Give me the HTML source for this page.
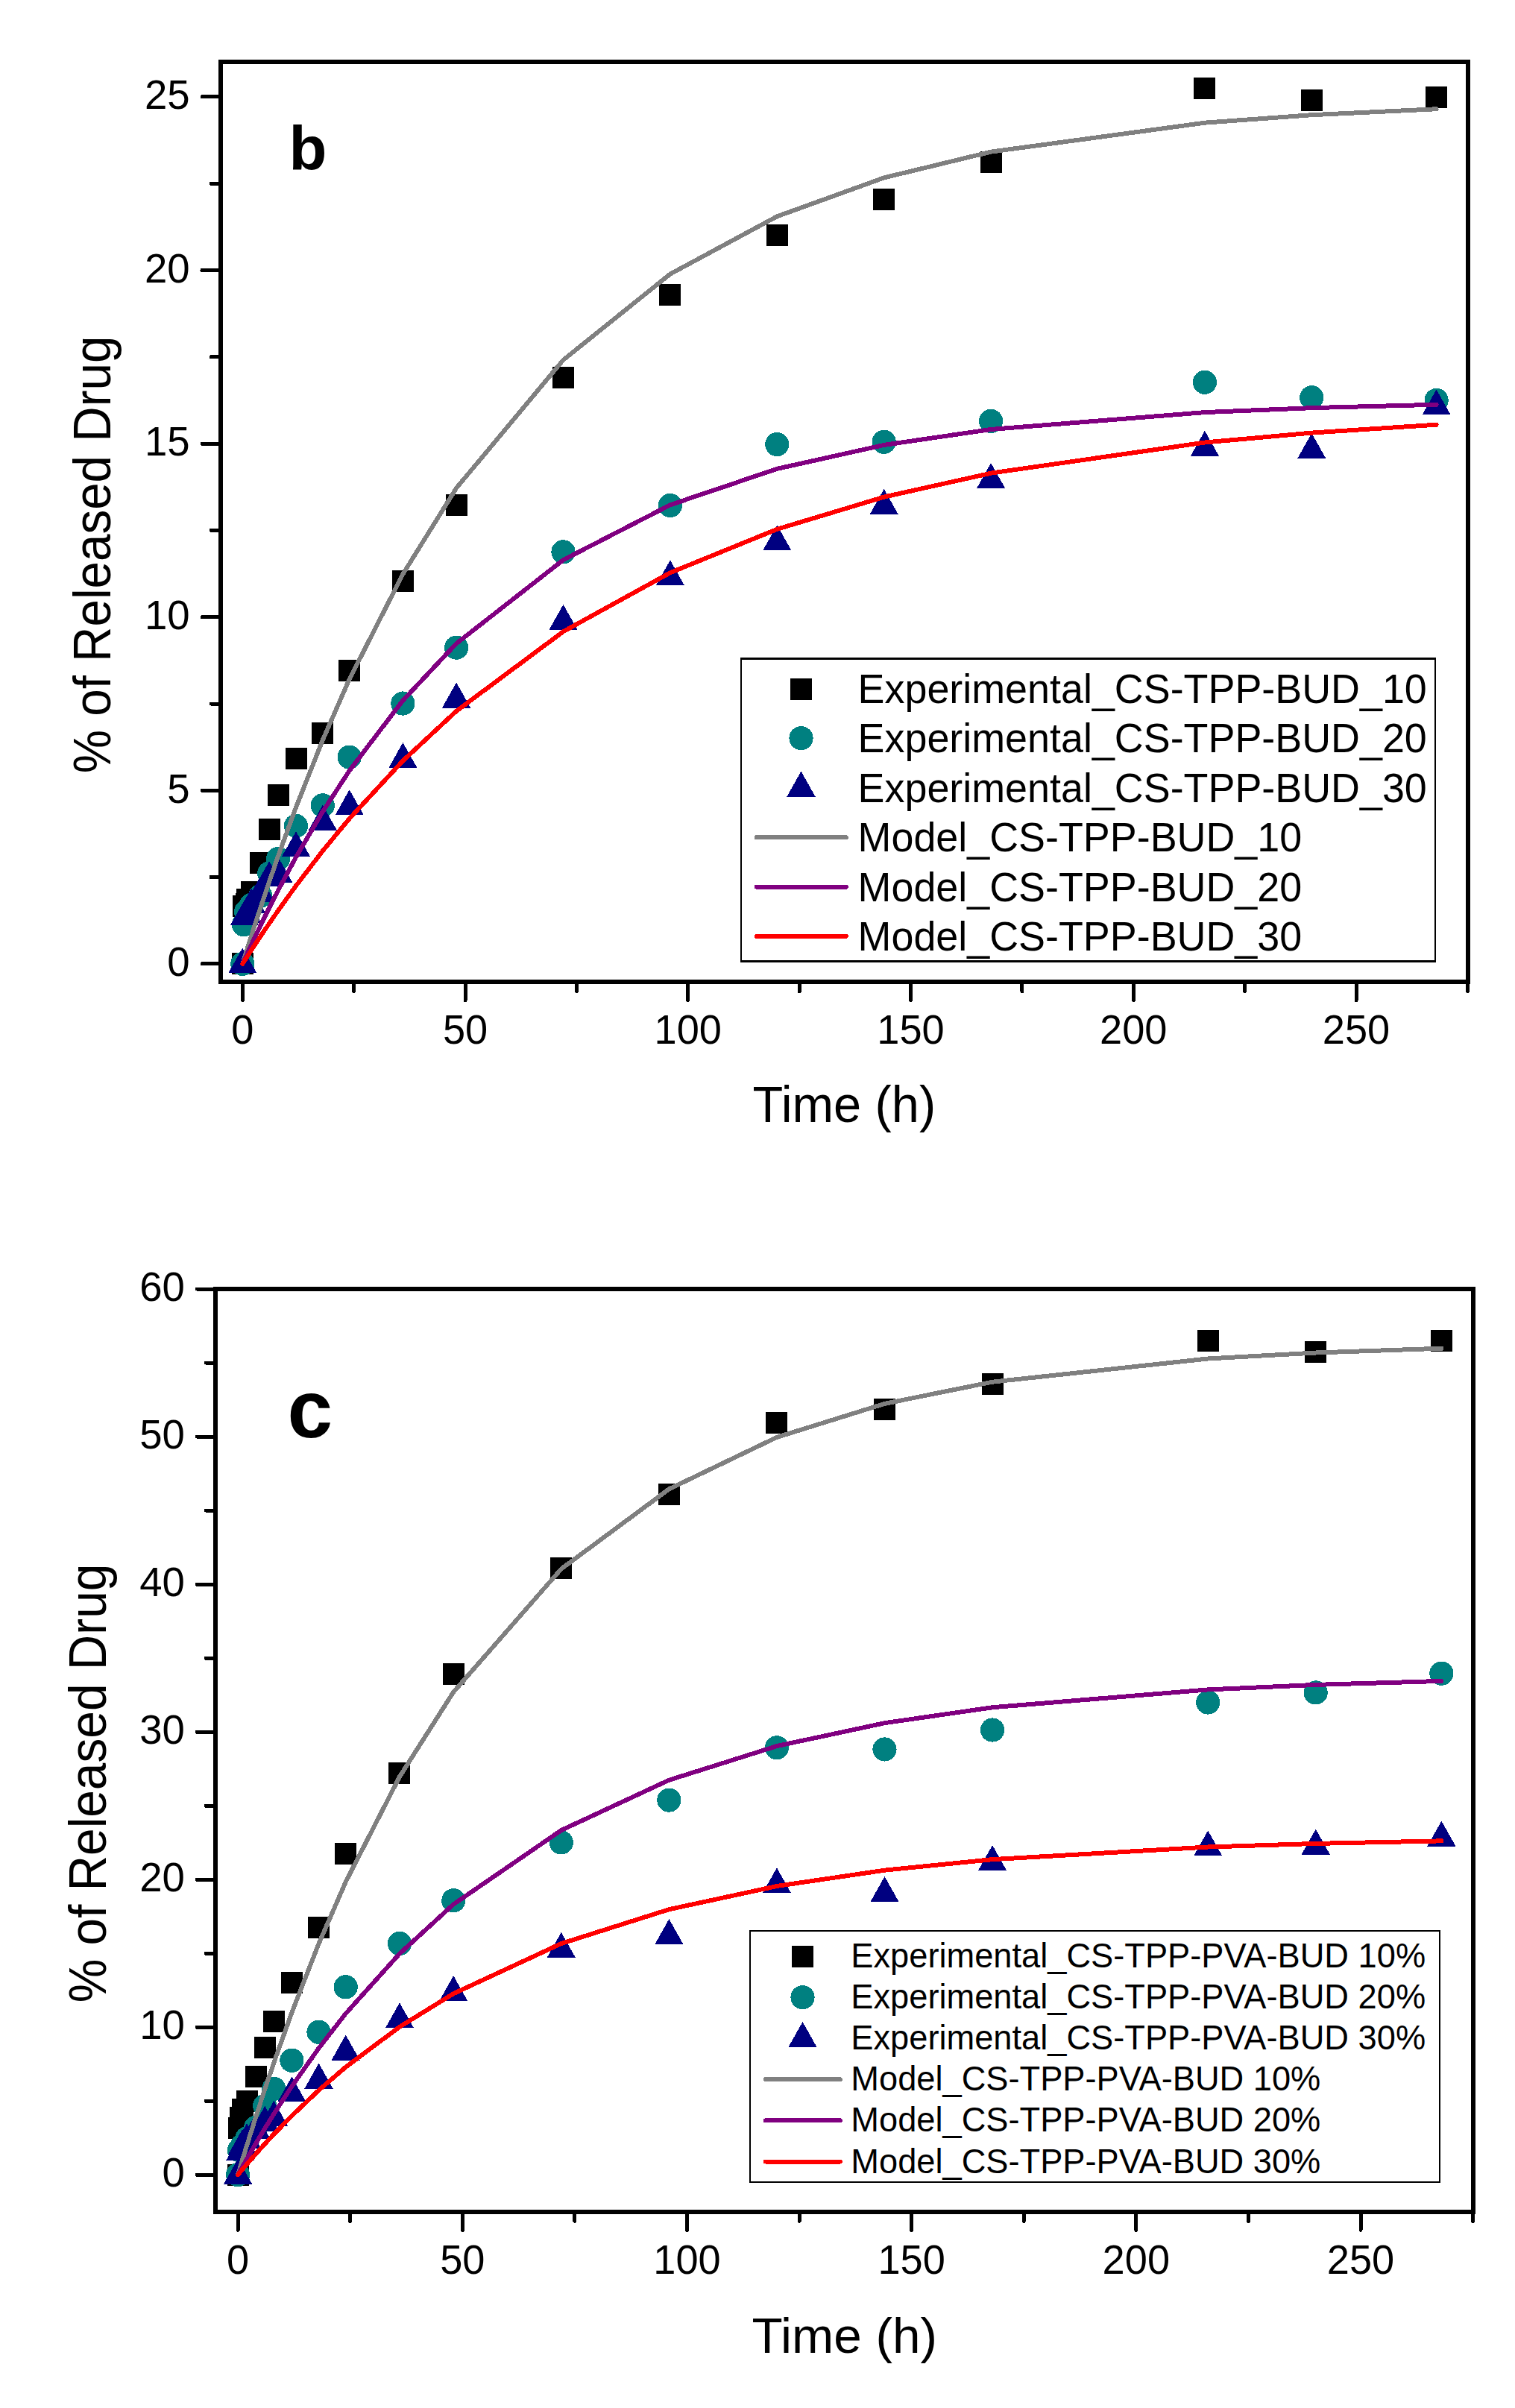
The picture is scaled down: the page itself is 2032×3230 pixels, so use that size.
<!DOCTYPE html>
<html><head><meta charset="utf-8"><title>Drug release</title>
<style>html,body{margin:0;padding:0;background:#fff;}svg{display:block;}</style>
</head><body>
<svg width="2032" height="3230" viewBox="0 0 2032 3230" shape-rendering="crispEdges" font-family='"Liberation Sans", Arial, sans-serif' fill="#000">
<rect width="2032" height="3230" fill="#fff"/>
<rect x="310.8" y="1278.4" width="29" height="29" fill="#000000"/>
<rect x="311.82" y="1201.18" width="29" height="29" fill="#000000"/>
<rect x="315.82" y="1198.39" width="29" height="29" fill="#000000"/>
<rect x="317.01" y="1191.87" width="29" height="29" fill="#000000"/>
<rect x="322.93" y="1182.1" width="29" height="29" fill="#000000"/>
<rect x="334.7" y="1143.03" width="29" height="29" fill="#000000"/>
<rect x="346.65" y="1098.37" width="29" height="29" fill="#000000"/>
<rect x="358.6" y="1052.31" width="29" height="29" fill="#000000"/>
<rect x="382.5" y="1002.54" width="29" height="29" fill="#000000"/>
<rect x="418.35" y="968.58" width="29" height="29" fill="#000000"/>
<rect x="454.2" y="884.84" width="29" height="29" fill="#000000"/>
<rect x="525.9" y="764.82" width="29" height="29" fill="#000000"/>
<rect x="597.6" y="662.94" width="29" height="29" fill="#000000"/>
<rect x="741" y="491.75" width="29" height="29" fill="#000000"/>
<rect x="884.4" y="381.03" width="29" height="29" fill="#000000"/>
<rect x="1027.8" y="301.01" width="29" height="29" fill="#000000"/>
<rect x="1171.2" y="252.63" width="29" height="29" fill="#000000"/>
<rect x="1314.6" y="202.86" width="29" height="29" fill="#000000"/>
<rect x="1601.4" y="103.77" width="29" height="29" fill="#000000"/>
<rect x="1744.8" y="120.05" width="29" height="29" fill="#000000"/>
<rect x="1912.1" y="116.33" width="29" height="29" fill="#000000"/>
<circle cx="325.3" cy="1292.9" r="16.1" fill="#008080"/>
<circle cx="326.97" cy="1240.33" r="16.1" fill="#008080"/>
<circle cx="330.08" cy="1223.12" r="16.1" fill="#008080"/>
<circle cx="337.25" cy="1213.82" r="16.1" fill="#008080"/>
<circle cx="349.2" cy="1201.72" r="16.1" fill="#008080"/>
<circle cx="361.15" cy="1171.48" r="16.1" fill="#008080"/>
<circle cx="373.1" cy="1151.94" r="16.1" fill="#008080"/>
<circle cx="397" cy="1107.75" r="16.1" fill="#008080"/>
<circle cx="432.85" cy="1080.3" r="16.1" fill="#008080"/>
<circle cx="468.7" cy="1015.64" r="16.1" fill="#008080"/>
<circle cx="540.4" cy="943.53" r="16.1" fill="#008080"/>
<circle cx="612.1" cy="868.64" r="16.1" fill="#008080"/>
<circle cx="755.5" cy="740.24" r="16.1" fill="#008080"/>
<circle cx="898.9" cy="677.91" r="16.1" fill="#008080"/>
<circle cx="1042.3" cy="596.03" r="16.1" fill="#008080"/>
<circle cx="1185.7" cy="592.77" r="16.1" fill="#008080"/>
<circle cx="1329.1" cy="564.86" r="16.1" fill="#008080"/>
<circle cx="1615.9" cy="512.76" r="16.1" fill="#008080"/>
<circle cx="1759.3" cy="533.23" r="16.1" fill="#008080"/>
<circle cx="1926.6" cy="536.95" r="16.1" fill="#008080"/>
<polygon points="325.3,1271.4 344.4,1305.4 306.2,1305.4" fill="#000080"/>
<polygon points="327.99,1207.2 347.09,1241.2 308.89,1241.2" fill="#000080"/>
<polygon points="331.28,1203.95 350.38,1237.95 312.18,1237.95" fill="#000080"/>
<polygon points="337.25,1191.39 356.35,1225.39 318.15,1225.39" fill="#000080"/>
<polygon points="349.2,1175.57 368.3,1209.57 330.1,1209.57" fill="#000080"/>
<polygon points="361.15,1155.1 380.25,1189.1 342.05,1189.1" fill="#000080"/>
<polygon points="373.1,1149.52 392.2,1183.52 354,1183.52" fill="#000080"/>
<polygon points="397,1115.09 416.1,1149.09 377.9,1149.09" fill="#000080"/>
<polygon points="432.85,1079.74 451.95,1113.74 413.75,1113.74" fill="#000080"/>
<polygon points="468.7,1059.27 487.8,1093.27 449.6,1093.27" fill="#000080"/>
<polygon points="540.4,996 559.5,1030 521.3,1030" fill="#000080"/>
<polygon points="612.1,915.52 631.2,949.52 593,949.52" fill="#000080"/>
<polygon points="755.5,810.85 774.6,844.85 736.4,844.85" fill="#000080"/>
<polygon points="898.9,751.31 918,785.31 879.8,785.31" fill="#000080"/>
<polygon points="1042.3,704.32 1061.4,738.32 1023.2,738.32" fill="#000080"/>
<polygon points="1185.7,655.94 1204.8,689.94 1166.6,689.94" fill="#000080"/>
<polygon points="1329.1,621.05 1348.2,655.05 1310,655.05" fill="#000080"/>
<polygon points="1615.9,577.79 1635,611.79 1596.8,611.79" fill="#000080"/>
<polygon points="1759.3,581.04 1778.4,615.04 1740.2,615.04" fill="#000080"/>
<polygon points="1926.6,522.43 1945.7,556.43 1907.5,556.43" fill="#000080"/>
<polyline points="325.3,1292.9 326.79,1288.08 328.29,1283.29 331.28,1273.75 337.25,1254.92 349.2,1218.19 361.15,1182.65 373.1,1148.28 397,1082.88 432.85,992.6 468.7,910.89 540.4,770.03 612.1,654.68 755.5,482.83 898.9,367.58 1042.3,290.28 1185.7,238.43 1329.1,203.66 1615.9,164.69 1759.3,154.2 1926.6,146.24" fill="none" stroke="#808080" stroke-width="6.0" stroke-linecap="round" stroke-linejoin="round"/>
<polyline points="325.3,1292.9 326.79,1289.6 328.29,1286.32 331.28,1279.79 337.25,1266.91 349.2,1241.81 361.15,1217.58 373.1,1194.17 397,1149.75 432.85,1088.66 468.7,1033.66 540.4,939.51 612.1,863.17 755.5,751.05 898.9,677.32 1042.3,628.83 1185.7,596.94 1329.1,575.97 1615.9,553.11 1759.3,547.15 1926.6,542.72" fill="none" stroke="#800080" stroke-width="6.0" stroke-linecap="round" stroke-linejoin="round"/>
<polyline points="325.3,1292.9 326.79,1290.55 328.29,1288.21 331.28,1283.55 337.25,1274.32 349.2,1256.21 361.15,1238.54 373.1,1221.31 397,1188.13 432.85,1141.37 468.7,1098.01 540.4,1020.5 612.1,953.83 755.5,847.15 898.9,768.23 1042.3,709.84 1185.7,666.64 1329.1,634.68 1615.9,593.54 1759.3,580.6 1926.6,569.69" fill="none" stroke="#ff0000" stroke-width="6.0" stroke-linecap="round" stroke-linejoin="round"/>
<rect x="296" y="83.3" width="1673" height="1233.7" fill="none" stroke="#000" stroke-width="6.0"/>
<line x1="271" y1="1292.9" x2="293" y2="1292.9" stroke="#000" stroke-width="5.0" stroke-linecap="round"/>
<text transform="translate(254.6,1309.1) scale(1,1.0250)" font-size="54.6" text-anchor="end">0</text>
<line x1="271" y1="1060.3" x2="293" y2="1060.3" stroke="#000" stroke-width="5.0" stroke-linecap="round"/>
<text transform="translate(254.6,1076.5) scale(1,1.0250)" font-size="54.6" text-anchor="end">5</text>
<line x1="271" y1="827.7" x2="293" y2="827.7" stroke="#000" stroke-width="5.0" stroke-linecap="round"/>
<text transform="translate(254.6,843.9) scale(1,1.0250)" font-size="54.6" text-anchor="end">10</text>
<line x1="271" y1="595.1" x2="293" y2="595.1" stroke="#000" stroke-width="5.0" stroke-linecap="round"/>
<text transform="translate(254.6,611.3) scale(1,1.0250)" font-size="54.6" text-anchor="end">15</text>
<line x1="271" y1="362.5" x2="293" y2="362.5" stroke="#000" stroke-width="5.0" stroke-linecap="round"/>
<text transform="translate(254.6,378.7) scale(1,1.0250)" font-size="54.6" text-anchor="end">20</text>
<line x1="271" y1="129.9" x2="293" y2="129.9" stroke="#000" stroke-width="5.0" stroke-linecap="round"/>
<text transform="translate(254.6,146.1) scale(1,1.0250)" font-size="54.6" text-anchor="end">25</text>
<line x1="283" y1="1176.6" x2="293" y2="1176.6" stroke="#000" stroke-width="5.0" stroke-linecap="round"/>
<line x1="283" y1="944" x2="293" y2="944" stroke="#000" stroke-width="5.0" stroke-linecap="round"/>
<line x1="283" y1="711.4" x2="293" y2="711.4" stroke="#000" stroke-width="5.0" stroke-linecap="round"/>
<line x1="283" y1="478.8" x2="293" y2="478.8" stroke="#000" stroke-width="5.0" stroke-linecap="round"/>
<line x1="283" y1="246.2" x2="293" y2="246.2" stroke="#000" stroke-width="5.0" stroke-linecap="round"/>
<line x1="325.3" y1="1320" x2="325.3" y2="1341.5" stroke="#000" stroke-width="5.0" stroke-linecap="round"/>
<text transform="translate(325.3,1399.8) scale(1,1.0250)" font-size="54.2" text-anchor="middle">0</text>
<line x1="624.05" y1="1320" x2="624.05" y2="1341.5" stroke="#000" stroke-width="5.0" stroke-linecap="round"/>
<text transform="translate(624.05,1399.8) scale(1,1.0250)" font-size="54.2" text-anchor="middle">50</text>
<line x1="922.8" y1="1320" x2="922.8" y2="1341.5" stroke="#000" stroke-width="5.0" stroke-linecap="round"/>
<text transform="translate(922.8,1399.8) scale(1,1.0250)" font-size="54.2" text-anchor="middle">100</text>
<line x1="1221.55" y1="1320" x2="1221.55" y2="1341.5" stroke="#000" stroke-width="5.0" stroke-linecap="round"/>
<text transform="translate(1221.55,1399.8) scale(1,1.0250)" font-size="54.2" text-anchor="middle">150</text>
<line x1="1520.3" y1="1320" x2="1520.3" y2="1341.5" stroke="#000" stroke-width="5.0" stroke-linecap="round"/>
<text transform="translate(1520.3,1399.8) scale(1,1.0250)" font-size="54.2" text-anchor="middle">200</text>
<line x1="1819.05" y1="1320" x2="1819.05" y2="1341.5" stroke="#000" stroke-width="5.0" stroke-linecap="round"/>
<text transform="translate(1819.05,1399.8) scale(1,1.0250)" font-size="54.2" text-anchor="middle">250</text>
<line x1="474.68" y1="1320" x2="474.68" y2="1329.5" stroke="#000" stroke-width="5.0" stroke-linecap="round"/>
<line x1="773.42" y1="1320" x2="773.42" y2="1329.5" stroke="#000" stroke-width="5.0" stroke-linecap="round"/>
<line x1="1072.17" y1="1320" x2="1072.17" y2="1329.5" stroke="#000" stroke-width="5.0" stroke-linecap="round"/>
<line x1="1370.92" y1="1320" x2="1370.92" y2="1329.5" stroke="#000" stroke-width="5.0" stroke-linecap="round"/>
<line x1="1669.67" y1="1320" x2="1669.67" y2="1329.5" stroke="#000" stroke-width="5.0" stroke-linecap="round"/>
<line x1="1968.42" y1="1320" x2="1968.42" y2="1329.5" stroke="#000" stroke-width="5.0" stroke-linecap="round"/>
<text transform="translate(387.6,228)" font-size="83.3" font-weight="bold">b</text>
<text transform="translate(1009.4,1504.9) scale(1,1.0300)" font-size="66.7">Time (h)</text>
<text transform="translate(148,1037.3) rotate(-90) scale(1,1.0640)" font-size="65.56">% of Released Drug</text>
<rect x="993.8" y="883.5" width="931.4" height="406" fill="#fff" stroke="#000" stroke-width="2.4"/>
<rect x="1060" y="909.6" width="29" height="29" fill="#000000"/>
<text transform="translate(1150.6,943.1) scale(1,1.0450)" font-size="53.87">Experimental_CS-TPP-BUD_10</text>
<circle cx="1074.5" cy="990.1" r="16.1" fill="#008080"/>
<text transform="translate(1150.6,1009.1) scale(1,1.0450)" font-size="53.87">Experimental_CS-TPP-BUD_20</text>
<polygon points="1074.5,1034.6 1093.6,1068.6 1055.4,1068.6" fill="#000080"/>
<text transform="translate(1150.6,1075.6) scale(1,1.0450)" font-size="53.87">Experimental_CS-TPP-BUD_30</text>
<line x1="1014.7" y1="1123.3" x2="1134.9" y2="1123.3" stroke="#808080" stroke-width="6.0" stroke-linecap="round"/>
<text transform="translate(1150.6,1142.3) scale(1,1.0450)" font-size="53.87">Model_CS-TPP-BUD_10</text>
<line x1="1014.7" y1="1189.6" x2="1134.9" y2="1189.6" stroke="#800080" stroke-width="6.0" stroke-linecap="round"/>
<text transform="translate(1150.6,1208.6) scale(1,1.0450)" font-size="53.87">Model_CS-TPP-BUD_20</text>
<line x1="1014.7" y1="1255.8" x2="1134.9" y2="1255.8" stroke="#ff0000" stroke-width="6.0" stroke-linecap="round"/>
<text transform="translate(1150.6,1274.8) scale(1,1.0450)" font-size="53.87">Model_CS-TPP-BUD_30</text>
<rect x="304.6" y="2902.7" width="29" height="29" fill="#000000"/>
<rect x="305.8" y="2839.53" width="29" height="29" fill="#000000"/>
<rect x="307.61" y="2825.67" width="29" height="29" fill="#000000"/>
<rect x="310.62" y="2814.97" width="29" height="29" fill="#000000"/>
<rect x="316.65" y="2804.08" width="29" height="29" fill="#000000"/>
<rect x="328.69" y="2771.41" width="29" height="29" fill="#000000"/>
<rect x="340.74" y="2732.39" width="29" height="29" fill="#000000"/>
<rect x="352.79" y="2696.75" width="29" height="29" fill="#000000"/>
<rect x="376.88" y="2645.06" width="29" height="29" fill="#000000"/>
<rect x="413.02" y="2570.8" width="29" height="29" fill="#000000"/>
<rect x="449.17" y="2471.98" width="29" height="29" fill="#000000"/>
<rect x="521.45" y="2363.86" width="29" height="29" fill="#000000"/>
<rect x="593.73" y="2231.38" width="29" height="29" fill="#000000"/>
<rect x="738.3" y="2088.8" width="29" height="29" fill="#000000"/>
<rect x="882.87" y="1989.58" width="29" height="29" fill="#000000"/>
<rect x="1027.43" y="1894.13" width="29" height="29" fill="#000000"/>
<rect x="1172" y="1875.91" width="29" height="29" fill="#000000"/>
<rect x="1316.56" y="1842.25" width="29" height="29" fill="#000000"/>
<rect x="1605.7" y="1784.03" width="29" height="29" fill="#000000"/>
<rect x="1750.26" y="1798.88" width="29" height="29" fill="#000000"/>
<rect x="1918.92" y="1784.03" width="29" height="29" fill="#000000"/>
<circle cx="319.1" cy="2917.2" r="16.1" fill="#008080"/>
<circle cx="320.91" cy="2884.33" r="16.1" fill="#008080"/>
<circle cx="325.12" cy="2877.59" r="16.1" fill="#008080"/>
<circle cx="331.15" cy="2868.48" r="16.1" fill="#008080"/>
<circle cx="343.19" cy="2853.83" r="16.1" fill="#008080"/>
<circle cx="355.24" cy="2824.92" r="16.1" fill="#008080"/>
<circle cx="367.29" cy="2801.75" r="16.1" fill="#008080"/>
<circle cx="391.38" cy="2763.73" r="16.1" fill="#008080"/>
<circle cx="427.52" cy="2725.7" r="16.1" fill="#008080"/>
<circle cx="463.67" cy="2665.31" r="16.1" fill="#008080"/>
<circle cx="535.95" cy="2606.89" r="16.1" fill="#008080"/>
<circle cx="608.23" cy="2549.26" r="16.1" fill="#008080"/>
<circle cx="752.8" cy="2471.43" r="16.1" fill="#008080"/>
<circle cx="897.37" cy="2414.6" r="16.1" fill="#008080"/>
<circle cx="1041.93" cy="2344.3" r="16.1" fill="#008080"/>
<circle cx="1186.5" cy="2346.48" r="16.1" fill="#008080"/>
<circle cx="1331.06" cy="2320.54" r="16.1" fill="#008080"/>
<circle cx="1620.2" cy="2283.5" r="16.1" fill="#008080"/>
<circle cx="1764.76" cy="2270.43" r="16.1" fill="#008080"/>
<circle cx="1933.42" cy="2244.69" r="16.1" fill="#008080"/>
<polygon points="319.1,2895.7 338.2,2929.7 300,2929.7" fill="#000080"/>
<polygon points="322.11,2864.41 341.21,2898.41 303.01,2898.41" fill="#000080"/>
<polygon points="325.12,2856.09 344.22,2890.09 306.02,2890.09" fill="#000080"/>
<polygon points="331.15,2848.17 350.25,2882.17 312.05,2882.17" fill="#000080"/>
<polygon points="343.19,2834.51 362.29,2868.51 324.09,2868.51" fill="#000080"/>
<polygon points="355.24,2825 374.34,2859 336.14,2859" fill="#000080"/>
<polygon points="367.29,2818.07 386.39,2852.07 348.19,2852.07" fill="#000080"/>
<polygon points="391.38,2785.4 410.48,2819.4 372.28,2819.4" fill="#000080"/>
<polygon points="427.52,2767.57 446.62,2801.57 408.42,2801.57" fill="#000080"/>
<polygon points="463.67,2729.55 482.77,2763.55 444.57,2763.55" fill="#000080"/>
<polygon points="535.95,2686.38 555.05,2720.38 516.85,2720.38" fill="#000080"/>
<polygon points="608.23,2650.14 627.33,2684.14 589.13,2684.14" fill="#000080"/>
<polygon points="752.8,2591.92 771.9,2625.92 733.7,2625.92" fill="#000080"/>
<polygon points="897.37,2574.1 916.47,2608.1 878.27,2608.1" fill="#000080"/>
<polygon points="1041.93,2505.38 1061.03,2539.38 1022.83,2539.38" fill="#000080"/>
<polygon points="1186.5,2517.07 1205.6,2551.07 1167.4,2551.07" fill="#000080"/>
<polygon points="1331.06,2475.08 1350.16,2509.08 1311.96,2509.08" fill="#000080"/>
<polygon points="1620.2,2455.48 1639.3,2489.48 1601.1,2489.48" fill="#000080"/>
<polygon points="1764.76,2453.5 1783.86,2487.5 1745.66,2487.5" fill="#000080"/>
<polygon points="1933.42,2442.61 1952.52,2476.61 1914.32,2476.61" fill="#000080"/>
<polyline points="319.1,2917.2 320.61,2912.17 322.11,2907.16 325.12,2897.21 331.15,2877.58 343.19,2839.37 355.24,2802.51 367.29,2766.96 391.38,2699.6 427.52,2607.24 463.67,2524.37 535.95,2383.27 608.23,2269.65 752.8,2104.47 897.37,1997.37 1041.93,1927.92 1186.5,1882.89 1331.06,1853.69 1620.2,1822.48 1764.76,1814.52 1933.42,1808.69" fill="none" stroke="#808080" stroke-width="6.0" stroke-linecap="round" stroke-linejoin="round"/>
<polyline points="319.1,2917.2 320.61,2914.49 322.11,2911.78 325.12,2906.41 331.15,2895.79 343.19,2875.07 355.24,2855.01 367.29,2835.59 391.38,2798.59 427.52,2747.39 463.67,2700.94 535.95,2620.55 608.23,2554.38 752.8,2455.05 897.37,2387.74 1041.93,2342.12 1186.5,2311.2 1331.06,2290.25 1620.2,2266.43 1764.76,2259.91 1933.42,2254.91" fill="none" stroke="#800080" stroke-width="6.0" stroke-linecap="round" stroke-linejoin="round"/>
<polyline points="319.1,2917.2 320.61,2915.39 322.11,2913.59 325.12,2910.01 331.15,2902.94 343.19,2889.12 355.24,2875.74 367.29,2862.78 391.38,2838.06 427.52,2803.83 463.67,2772.72 535.95,2718.76 608.23,2674.2 752.8,2607.02 897.37,2561.22 1041.93,2529.98 1186.5,2508.68 1331.06,2494.16 1620.2,2477.51 1764.76,2472.91 1933.42,2469.35" fill="none" stroke="#ff0000" stroke-width="6.0" stroke-linecap="round" stroke-linejoin="round"/>
<rect x="289" y="1729" width="1687" height="1237.8" fill="none" stroke="#000" stroke-width="6.0"/>
<line x1="264" y1="2917.2" x2="286" y2="2917.2" stroke="#000" stroke-width="5.0" stroke-linecap="round"/>
<text transform="translate(247.9,2933.4) scale(1,1.0250)" font-size="54.6" text-anchor="end">0</text>
<line x1="264" y1="2719.17" x2="286" y2="2719.17" stroke="#000" stroke-width="5.0" stroke-linecap="round"/>
<text transform="translate(247.9,2735.37) scale(1,1.0250)" font-size="54.6" text-anchor="end">10</text>
<line x1="264" y1="2521.14" x2="286" y2="2521.14" stroke="#000" stroke-width="5.0" stroke-linecap="round"/>
<text transform="translate(247.9,2537.34) scale(1,1.0250)" font-size="54.6" text-anchor="end">20</text>
<line x1="264" y1="2323.11" x2="286" y2="2323.11" stroke="#000" stroke-width="5.0" stroke-linecap="round"/>
<text transform="translate(247.9,2339.31) scale(1,1.0250)" font-size="54.6" text-anchor="end">30</text>
<line x1="264" y1="2125.08" x2="286" y2="2125.08" stroke="#000" stroke-width="5.0" stroke-linecap="round"/>
<text transform="translate(247.9,2141.28) scale(1,1.0250)" font-size="54.6" text-anchor="end">40</text>
<line x1="264" y1="1927.05" x2="286" y2="1927.05" stroke="#000" stroke-width="5.0" stroke-linecap="round"/>
<text transform="translate(247.9,1943.25) scale(1,1.0250)" font-size="54.6" text-anchor="end">50</text>
<line x1="264" y1="1729.02" x2="286" y2="1729.02" stroke="#000" stroke-width="5.0" stroke-linecap="round"/>
<text transform="translate(247.9,1745.22) scale(1,1.0250)" font-size="54.6" text-anchor="end">60</text>
<line x1="276" y1="2818.18" x2="286" y2="2818.18" stroke="#000" stroke-width="5.0" stroke-linecap="round"/>
<line x1="276" y1="2620.15" x2="286" y2="2620.15" stroke="#000" stroke-width="5.0" stroke-linecap="round"/>
<line x1="276" y1="2422.12" x2="286" y2="2422.12" stroke="#000" stroke-width="5.0" stroke-linecap="round"/>
<line x1="276" y1="2224.09" x2="286" y2="2224.09" stroke="#000" stroke-width="5.0" stroke-linecap="round"/>
<line x1="276" y1="2026.06" x2="286" y2="2026.06" stroke="#000" stroke-width="5.0" stroke-linecap="round"/>
<line x1="276" y1="1828.03" x2="286" y2="1828.03" stroke="#000" stroke-width="5.0" stroke-linecap="round"/>
<line x1="319.1" y1="2969.8" x2="319.1" y2="2991.3" stroke="#000" stroke-width="5.0" stroke-linecap="round"/>
<text transform="translate(319.1,3049.8) scale(1,1.0250)" font-size="54.2" text-anchor="middle">0</text>
<line x1="620.28" y1="2969.8" x2="620.28" y2="2991.3" stroke="#000" stroke-width="5.0" stroke-linecap="round"/>
<text transform="translate(620.28,3049.8) scale(1,1.0250)" font-size="54.2" text-anchor="middle">50</text>
<line x1="921.46" y1="2969.8" x2="921.46" y2="2991.3" stroke="#000" stroke-width="5.0" stroke-linecap="round"/>
<text transform="translate(921.46,3049.8) scale(1,1.0250)" font-size="54.2" text-anchor="middle">100</text>
<line x1="1222.64" y1="2969.8" x2="1222.64" y2="2991.3" stroke="#000" stroke-width="5.0" stroke-linecap="round"/>
<text transform="translate(1222.64,3049.8) scale(1,1.0250)" font-size="54.2" text-anchor="middle">150</text>
<line x1="1523.82" y1="2969.8" x2="1523.82" y2="2991.3" stroke="#000" stroke-width="5.0" stroke-linecap="round"/>
<text transform="translate(1523.82,3049.8) scale(1,1.0250)" font-size="54.2" text-anchor="middle">200</text>
<line x1="1825" y1="2969.8" x2="1825" y2="2991.3" stroke="#000" stroke-width="5.0" stroke-linecap="round"/>
<text transform="translate(1825,3049.8) scale(1,1.0250)" font-size="54.2" text-anchor="middle">250</text>
<line x1="469.69" y1="2969.8" x2="469.69" y2="2979.3" stroke="#000" stroke-width="5.0" stroke-linecap="round"/>
<line x1="770.87" y1="2969.8" x2="770.87" y2="2979.3" stroke="#000" stroke-width="5.0" stroke-linecap="round"/>
<line x1="1072.05" y1="2969.8" x2="1072.05" y2="2979.3" stroke="#000" stroke-width="5.0" stroke-linecap="round"/>
<line x1="1373.23" y1="2969.8" x2="1373.23" y2="2979.3" stroke="#000" stroke-width="5.0" stroke-linecap="round"/>
<line x1="1674.41" y1="2969.8" x2="1674.41" y2="2979.3" stroke="#000" stroke-width="5.0" stroke-linecap="round"/>
<line x1="1975.59" y1="2969.8" x2="1975.59" y2="2979.3" stroke="#000" stroke-width="5.0" stroke-linecap="round"/>
<text transform="translate(385.5,1927.7)" font-size="109" font-weight="bold">c</text>
<text transform="translate(1008.4,3155.9)" font-size="67.45">Time (h)</text>
<text transform="translate(141.5,2686.35) rotate(-90) scale(1,1.0600)" font-size="65.79">% of Released Drug</text>
<rect x="1006.2" y="2590.2" width="924.8" height="336.7" fill="#fff" stroke="#000" stroke-width="2.4"/>
<rect x="1062" y="2609.5" width="29" height="29" fill="#000000"/>
<text transform="translate(1141.3,2639) scale(1,1.0250)" font-size="45.24">Experimental_CS-TPP-PVA-BUD 10%</text>
<circle cx="1076.5" cy="2679.1" r="16.1" fill="#008080"/>
<text transform="translate(1141.3,2694.1) scale(1,1.0250)" font-size="45.24">Experimental_CS-TPP-PVA-BUD 20%</text>
<polygon points="1076.5,2712 1095.6,2746 1057.4,2746" fill="#000080"/>
<text transform="translate(1141.3,2749) scale(1,1.0250)" font-size="45.24">Experimental_CS-TPP-PVA-BUD 30%</text>
<line x1="1026.8" y1="2789.2" x2="1126.9" y2="2789.2" stroke="#808080" stroke-width="6.0" stroke-linecap="round"/>
<text transform="translate(1141.3,2804.2) scale(1,1.0250)" font-size="45.24">Model_CS-TPP-PVA-BUD 10%</text>
<line x1="1026.8" y1="2844.4" x2="1126.9" y2="2844.4" stroke="#800080" stroke-width="6.0" stroke-linecap="round"/>
<text transform="translate(1141.3,2859.4) scale(1,1.0250)" font-size="45.24">Model_CS-TPP-PVA-BUD 20%</text>
<line x1="1026.8" y1="2899.5" x2="1126.9" y2="2899.5" stroke="#ff0000" stroke-width="6.0" stroke-linecap="round"/>
<text transform="translate(1141.3,2914.5) scale(1,1.0250)" font-size="45.24">Model_CS-TPP-PVA-BUD 30%</text>
</svg>
</body></html>
